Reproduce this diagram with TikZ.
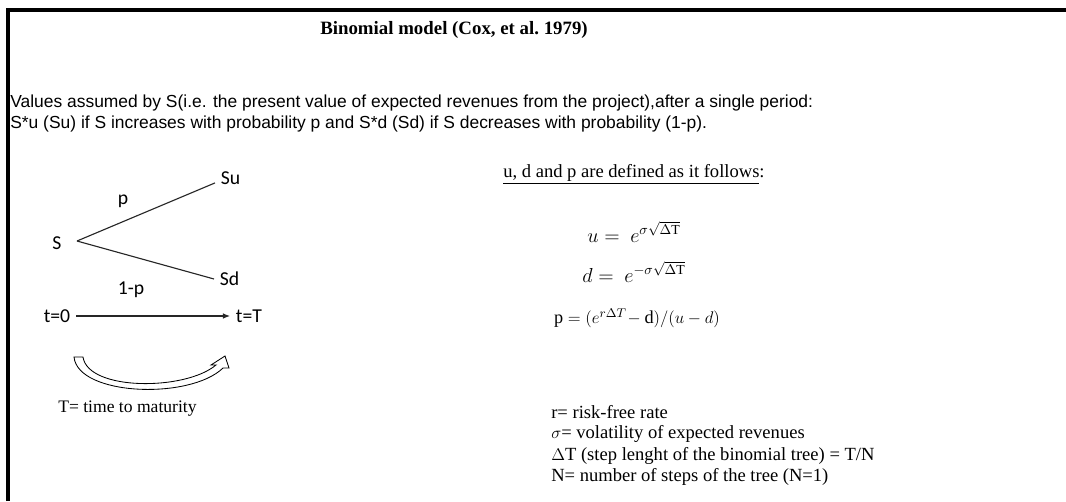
\documentclass[tikz,border=0pt]{standalone}
\usepackage{fontspec}
\setmainfont{Liberation Serif}
\newfontfamily\arialfont{Liberation Sans}
\newfontfamily\calibrifont{Carlito}
\usetikzlibrary{arrows.meta, positioning}

\begin{document}
\begin{tikzpicture}[x=0.025cm, y=-0.025cm,
    txt/.style={inner sep=0pt, anchor=west, font=\arialfont\fontsize{12.4}{14}\selectfont},
    lbl/.style={inner sep=4pt, font=\calibrifont\fontsize{14}{15}\selectfont},
    note/.style={inner sep=0pt, anchor=west, font=\fontsize{13.2}{15}\selectfont},
    eqn/.style={inner sep=0pt, font=\fontsize{14}{16}\selectfont},
    branch/.style={line width=0.8pt, black!85}
  ]
  \useasboundingbox (0,0) rectangle (1066,501);
  % frame
  \draw[line width=2.5pt] (8,501) -- (8,10) -- (1066,10);

  \node[font=\bfseries\fontsize{13.4}{15}\selectfont] (title) at (454,30) {Binomial model (Cox, et al.\ 1979)};
  \node[txt] (line1) at (10,103) {Values assumed by S(i.e. the present value of expected revenues from the project),after a single period:};
  \node[txt] (line2) at (10,124) {S*u (Su) if S increases with probability p and S*d (Sd) if S decreases with probability (1-p).};

  % one-step tree
  \node[lbl] (S) at (57,243) {S};
  \coordinate (root) at (77,241);
  \node[lbl, anchor=west] (Su) at (215,178) {Su};
  \node[lbl, anchor=west] (Sd) at (214,279) {Sd};
  \draw[branch] (root) -- ([yshift=-3.5pt]Su.west);
  \draw[branch] (root) -- (Sd.west);
  \node[lbl] (pu) at (123,201) {p};
  \node[lbl] (pd) at (131,290) {1-p};

  % time axis
  \node[lbl] (t0) at (57,316) {t=0};
  \node[lbl, anchor=west] (tT) at (230,316) {t=T};
  \draw[branch, -{Latex[length=5pt, width=4pt]}] (t0) -- (tT);

  % maturity arrow
  \draw[line width=0.6pt, fill=white] (74,357) .. controls (78,396) and (190,400) .. (223,368)
    -- (229,368) -- (225,356) -- (211,365) -- (216,365)
    .. controls (185,391) and (88,391) .. (83,357) -- cycle;
  \node[note, font=\fontsize{12.5}{15}\selectfont] (mat) at (58,409) {T= time to maturity};

  % parameters
  \node[note] (def) at (503,174) {\underline{u, d and p are defined as it follows}:};
  \node[eqn] (equ) at (634,232) {$u =\ e^{\sigma\sqrt{\Delta\mathrm{T}}}$};
  \node[eqn] (eqd) at (634,272) {$d =\ e^{-\sigma\sqrt{\Delta\mathrm{T}}}$};
  \node[eqn, font=\fontsize{13}{15}\selectfont] (eqp) at (637,318) {$\mathrm{p} = (e^{r\Delta T}\!-\mathrm{d})/(u-d)$};

  \foreach \y/\t [count=\i] in {412/{r= risk-free rate},
      434/{$\sigma$= volatility of expected revenues},
      456/{$\Delta$T (step lenght of the binomial tree) = T/N},
      477/{N= number of steps of the tree (N=1)}} {
    \node[note] (leg\i) at (551,\y) {\t};
  }
\end{tikzpicture}
\end{document}
